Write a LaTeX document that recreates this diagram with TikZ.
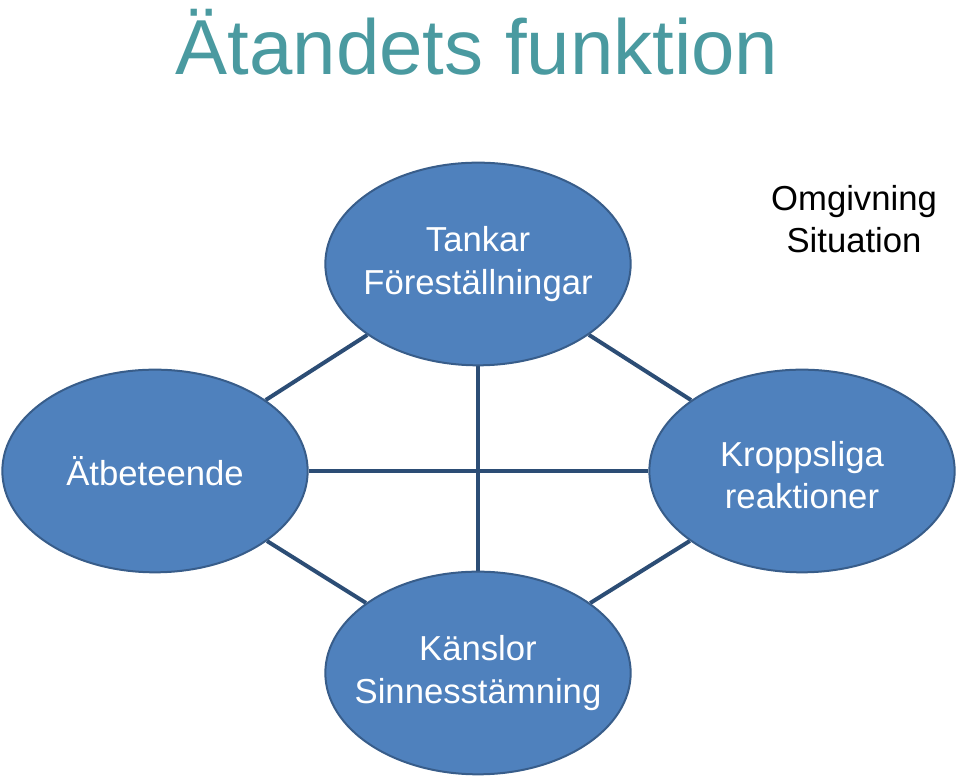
\documentclass[tikz,border=0pt]{standalone}
\usepackage{fontspec}
\setmainfont{Liberation Sans}
\usetikzlibrary{shapes.geometric,backgrounds}

\definecolor{blobfill}{HTML}{4F81BD}
\definecolor{blobline}{HTML}{385D8A}
\definecolor{linkcol}{HTML}{2C4D75}
\definecolor{titlecol}{HTML}{4A9AA0}

\tikzset{
  blob/.style={ellipse, draw=blobline, line width=1.5pt, fill=blobfill,
    minimum width=229pt, minimum height=152pt, inner sep=0pt},
  blobtext/.style={text=white, align=center, font=\fontsize{26}{32}\selectfont},
  link/.style={draw=linkcol, line width=3pt},
}

\begin{document}
\begin{tikzpicture}[x=0.75pt,y=0.75pt]
  \useasboundingbox (0,0) rectangle (960,780);

  % Title
  \node[text=titlecol, font=\fontsize{58.5}{70}\selectfont, anchor=base] (title) at (477,705) {Ätandets funktion};

  % Nodes
  \node[blob] (tankar) at (478,516) {};
  \node[blob] (atbet) at (155,309) {};
  \node[blob] (kropp) at (802,309) {};
  \node[blob] (kansl) at (478,107) {};

  \node[blobtext] (tankartxt) at (tankar) {Tankar\\Föreställningar};
  \node[blobtext] (atbettxt) at (atbet) {Ätbeteende};
  \node[blobtext] (kropptxt) at ([yshift=-3]kropp) {Kroppsliga\\reaktioner};
  \node[blobtext] (kansltxt) at (kansl) {Känslor\\Sinnesstämning};

  \node[align=center, font=\fontsize{26}{32}\selectfont] (omgiv) at (854,561) {Omgivning\\Situation};

  % Edges
  \begin{scope}[on background layer]
    \draw[link] (atbet) -- (tankar);
    \draw[link] (tankar) -- (kropp);
    \draw[link] (atbet) -- (kansl);
    \draw[link] (kropp) -- (kansl);
    \draw[link] (tankar) -- (kansl);
    \draw[link] (atbet) -- (kropp);
  \end{scope}
\end{tikzpicture}
\end{document}
